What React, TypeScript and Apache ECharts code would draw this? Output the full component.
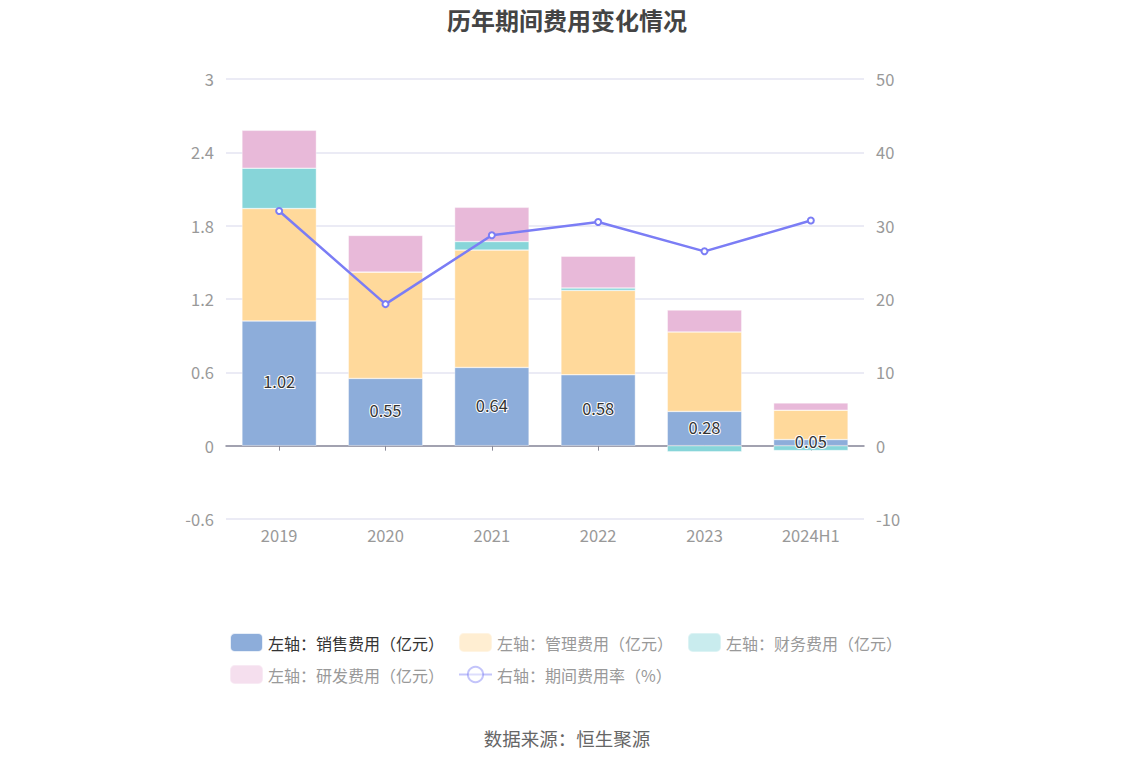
import React, { useEffect, useRef } from "react";
import * as echarts from "echarts";

const categories = ["2019", "2020", "2021", "2022", "2023", "2024H1"];
const salesExp = [1.02, 0.55, 0.64, 0.58, 0.28, 0.05];
const adminExp = [0.92, 0.87, 0.96, 0.69, 0.65, 0.24];
const financeExp = [0.33, 0.0, 0.07, 0.02, -0.05, -0.04];
const rdExp = [0.31, 0.3, 0.28, 0.26, 0.18, 0.06];
const expenseRate = [32.0, 19.3, 28.7, 30.5, 26.5, 30.7];

const seriesNames = [
  "左轴：销售费用（亿元）",
  "左轴：管理费用（亿元）",
  "左轴：财务费用（亿元）",
  "左轴：研发费用（亿元）",
  "右轴：期间费用率（%）",
];
const colors = ["#8DADDA", "#FFD99B", "#87D5D9", "#E8B9D9", "#7B7DF5"];

const FONT = '"Noto Sans CJK SC", "Noto Sans", sans-serif';

export default function App() {
  const ref = useRef<HTMLDivElement>(null);
  useEffect(() => {
    document.body.style.margin = "0";
    if (!ref.current) return;
    const chart = echarts.init(ref.current, null, { renderer: "svg" });
    const barItem = (i: number) => ({
      color: colors[i],
      borderColor: "rgba(255,255,255,0.8)",
      borderWidth: 0.5,
    });
    const barData = [salesExp, adminExp, financeExp, rdExp];
    const bars = barData.map((d, i) => ({
      name: seriesNames[i],
      type: "bar",
      stack: "cost",
      barWidth: "70%",
      xAxisIndex: 0,
      yAxisIndex: 0,
      itemStyle: barItem(i),
      data: d,
      label:
        i === 0
          ? {
              show: true,
              position: "inside",
              offset: [0, -2],
              color: "#333",
              fontSize: 16.5,
              fontFamily: FONT,
              textBorderColor: "#fff",
              textBorderWidth: 2,
            }
          : { show: false },
    }));
    const legendBase = {
      left: 229,
      padding: 0,
      itemWidth: 33,
      itemHeight: 19,
      itemGap: 14,
      textStyle: { fontSize: 16, color: "#999", fontFamily: FONT },
    };
    chart.setOption({
      animation: false,
      textStyle: { fontFamily: FONT },
      title: {
        text: "历年期间费用变化情况",
        left: "center",
        top: 2,
        textStyle: { fontSize: 24, fontWeight: "bold", color: "#444", fontFamily: FONT },
      },
      grid: { left: 226, right: 270, top: 79, bottom: 247 },
      legend: [
        {
          ...legendBase,
          top: 632,
          data: [
            { name: seriesNames[0], icon: "roundRect", textStyle: { color: "#333" } },
            { name: seriesNames[1], icon: "roundRect", itemStyle: { opacity: 0.45 } },
            { name: seriesNames[2], icon: "roundRect", itemStyle: { opacity: 0.45 } },
          ],
        },
        {
          ...legendBase,
          top: 664,
          data: [
            { name: seriesNames[3], icon: "roundRect", itemStyle: { opacity: 0.45 } },
            {
              name: seriesNames[4],
              itemStyle: { opacity: 0.45 },
              lineStyle: { opacity: 0.45 },
            },
          ],
        },
      ],
      graphic: [
        {
          type: "text",
          left: "center",
          top: 729,
          style: {
            text: "数据来源：恒生聚源",
            fill: "#666",
            fontSize: 18.5,
            fontFamily: FONT,
          },
        },
      ],
      xAxis: [
        {
          type: "category",
          data: categories,
          axisLine: { onZero: true, lineStyle: { color: "#8a8a99", width: 1.5 } },
          axisTick: { show: true, alignWithLabel: true, length: 5, lineStyle: { color: "#8a8a99" } },
          axisLabel: { show: false },
        },
        {
          type: "category",
          data: categories,
          position: "bottom",
          axisLine: { show: false, onZero: false },
          axisTick: { show: false },
          axisLabel: { color: "#999", fontSize: 16.5, margin: 8, fontFamily: FONT },
        },
      ],
      yAxis: [
        {
          type: "value",
          min: -0.6,
          max: 3,
          interval: 0.6,
          axisLine: { show: false },
          axisTick: { show: false },
          axisLabel: {
            color: "#999",
            fontSize: 16.5,
            margin: 12,
            fontFamily: FONT,
            formatter: (v: number) => String(Math.round(v * 10) / 10),
          },
          splitLine: { lineStyle: { color: "#E4E5F2", width: 1.5 } },
        },
        {
          type: "value",
          min: -10,
          max: 50,
          interval: 10,
          axisLine: { show: false },
          axisTick: { show: false },
          axisLabel: { color: "#999", fontSize: 16.5, margin: 12, fontFamily: FONT },
          splitLine: { show: false },
        },
      ],
      series: [
        ...bars,
        {
          name: seriesNames[4],
          type: "line",
          yAxisIndex: 1,
          xAxisIndex: 0,
          data: expenseRate,
          symbol: "emptyCircle",
          symbolSize: 6,
          color: colors[4],
          lineStyle: { width: 2.5, color: colors[4] },
          itemStyle: { color: colors[4], borderWidth: 2 },
          z: 5,
        },
      ],
    });
    return () => chart.dispose();
  }, []);
  return <div ref={ref} style={{ width: 1134, height: 766 }} />;
}
